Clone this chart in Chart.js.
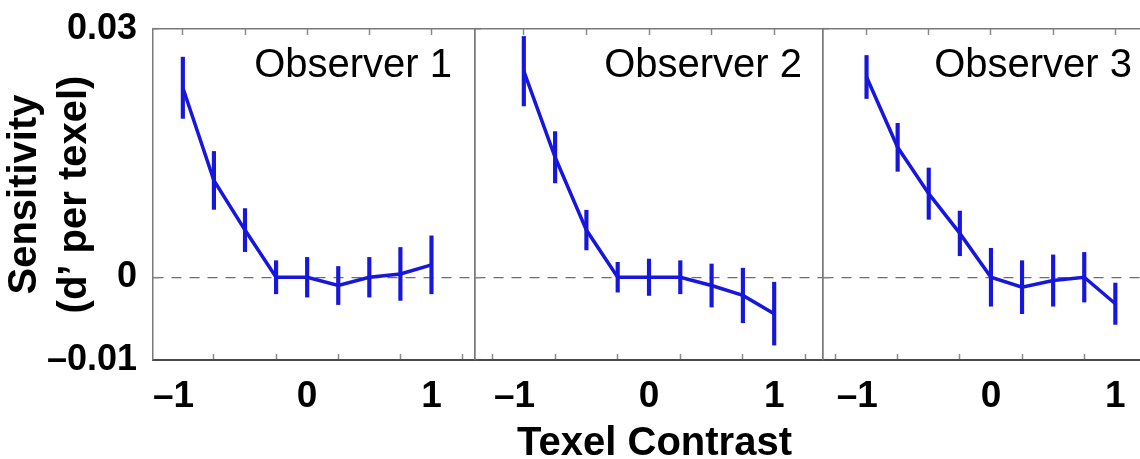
<!DOCTYPE html>
<html>
<head>
<meta charset="utf-8">
<script src="https://cdn.jsdelivr.net/npm/chart.js@4"></script>
<style>
  html, body { margin: 0; padding: 0; background: #fff; overflow: hidden; }
  #wrap { position: relative; width: 1140px; height: 459px; overflow: hidden; }
  .panel { position: absolute; top: 0; height: 459px; }
</style>
</head>
<body>
<div id="wrap">
  <div class="panel" style="left:0px;width:476px"><canvas id="p1"></canvas></div>
  <div class="panel" style="left:474px;width:350px"><canvas id="p2"></canvas></div>
  <div class="panel" style="left:822px;width:340px"><canvas id="p3"></canvas></div>
</div>
<script>
// texel contrast levels
var contrast = [-1, -0.75, -0.5, -0.25, 0, 0.25, 0.5, 0.75, 1];

// sensitivity (d' per texel) and error bar half-lengths
var obs1Mean = [0.0229, 0.0117, 0.0057, 0, 0, -0.001, 0, 0.0004, 0.0015];
var obs1Err = [0.0037, 0.0035, 0.0026, 0.002, 0.0024, 0.0023, 0.0024, 0.0032, 0.0035];
var obs2Mean = [0.0249, 0.0145, 0.0057, 0, 0, 0, -0.001, -0.0022, -0.0044];
var obs2Err = [0.0042, 0.0031, 0.0024, 0.0018, 0.0022, 0.002, 0.0026, 0.0033, 0.0038];
var obs3Mean = [0.0242, 0.0157, 0.0101, 0.0053, 0, -0.0012, -0.0004, 0, -0.0032];
var obs3Err = [0.0026, 0.0029, 0.0031, 0.0027, 0.0035, 0.0032, 0.0031, 0.003, 0.0025];

var panelNames = ['Observer 1', 'Observer 2', 'Observer 3'];

// ticks (the minus label is padded so the digit sits on the tick, as in the figure)
var xTickValues = [-1, -0.5, 0, 0.5, 1];
var xTickText = ['\u20131\u2002', '', '0', '', '1'];
var yTickValues = [-0.01, 0, 0.03];
var yTickText = ['\u20130.01', '0', '0.03'];

var FONT = '"Liberation Sans", Arial, Helvetica, sans-serif';
var BLUE = '#1616dd';

var panelLabel = {
  id: 'panelLabel',
  afterDatasetsDraw: function (chart, args, opts) {
    var ctx = chart.ctx;
    var area = chart.chartArea;
    ctx.save();
    ctx.font = '40px ' + FONT;
    ctx.fillStyle = '#000';
    ctx.textAlign = 'right';
    ctx.textBaseline = 'alphabetic';
    ctx.fillText(opts.text, area.right - opts.right, area.top + 48);
    ctx.restore();
  }
};

function setTicks(values) {
  return function (scale) {
    scale.ticks = values.map(function (v) { return { value: v }; });
  };
}

function fixSize(prop, size) {
  return function (s) {
    s[prop] = size;
    s.paddingTop = 0;
    s.paddingBottom = 0;
    s.paddingLeft = 0;
    s.paddingRight = 0;
  };
}

function makePanel(id, mean, err, name, cfg) {
  var linePts = contrast.map(function (c, i) { return { x: c, y: mean[i] }; });
  var barPts = contrast.map(function (c, i) { return { x: c, y: [mean[i] - err[i], mean[i] + err[i]] }; });

  return new Chart(id, {
    type: 'line',
    plugins: [panelLabel],
    data: {
      datasets: [
        {
          type: 'bar',
          data: barPts,
          backgroundColor: BLUE,
          borderWidth: 0,
          barThickness: 3.5,
          grouped: false
        },
        {
          type: 'line',
          data: linePts,
          borderColor: BLUE,
          borderWidth: 3.5,
          pointRadius: 0,
          tension: 0,
          fill: false
        }
      ]
    },
    options: {
      responsive: true,
      maintainAspectRatio: false,
      animation: false,
      events: [],
      layout: { padding: { top: 29, left: cfg.padLeft, right: cfg.padRight, bottom: 0 } },
      plugins: {
        legend: { display: false },
        tooltip: { enabled: false },
        panelLabel: { text: name, right: cfg.labelRight }
      },
      scales: {
        x: {
          type: 'linear',
          position: 'bottom',
          min: cfg.xMin,
          max: cfg.xMax,
          offset: false,
          afterBuildTicks: setTicks(xTickValues),
          afterFit: fixSize('height', 99),
          border: { color: '#4a4a4a', width: 2 },
          grid: { drawOnChartArea: false, drawTicks: true, tickLength: -6, tickColor: '#8a8a8a', tickWidth: 1.5 },
          ticks: {
            autoSkip: false,
            maxRotation: 0,
            padding: 21,
            color: '#000',
            font: { family: FONT, size: 37, weight: 'bold' },
            callback: function (v, i) { return xTickText[i]; }
          },
          title: {
            display: cfg.xTitle,
            text: ' Texel Contrast',
            color: '#000',
            font: { family: FONT, size: 40, weight: 'bold', lineHeight: 1 },
            padding: { top: 0, bottom: -5 }
          }
        },
        xTop: {
          type: 'linear',
          position: 'top',
          min: cfg.xMin,
          max: cfg.xMax,
          afterBuildTicks: setTicks(xTickValues),
          afterFit: fixSize('height', 0),
          border: { color: '#7a7a7a', width: 1.5 },
          grid: { drawOnChartArea: false, drawTicks: true, tickLength: -6, tickColor: '#8a8a8a', tickWidth: 1.5 },
          ticks: { display: false }
        },
        y: {
          type: 'linear',
          position: 'left',
          min: -0.01,
          max: 0.03,
          afterBuildTicks: setTicks(yTickValues),
          afterFit: fixSize('width', cfg.yWidth),
          border: { color: '#7a7a7a', width: 1.5, dash: [10, 8] },
          grid: {
            drawOnChartArea: true,
            drawTicks: true,
            tickLength: -6,
            tickColor: '#8a8a8a',
            tickWidth: 1.5,
            tickBorderDash: [],
            lineWidth: 1.3,
            color: function (ctx) { return ctx.tick && ctx.tick.value === 0 ? '#6e6e6e' : 'rgba(0,0,0,0)'; }
          },
          ticks: {
            display: cfg.yLabels,
            padding: 22,
            color: '#000',
            font: { family: FONT, size: 36, weight: 'bold' },
            callback: function (v, i) { return yTickText[i]; }
          },
          title: {
            display: cfg.yLabels,
            text: ['Sensitivity', '(d\u2019 per texel)'],
            color: '#000',
            font: { family: FONT, size: 40, weight: 'bold', lineHeight: 1.25 },
            padding: { top: 0, bottom: 0 }
          }
        },
        yRight: {
          type: 'linear',
          position: 'right',
          min: -0.01,
          max: 0.03,
          afterFit: fixSize('width', 0),
          border: { color: '#7a7a7a', width: 1.5 },
          grid: { drawOnChartArea: false, drawTicks: false },
          ticks: { display: false }
        }
      }
    }
  });
}

makePanel('p1', obs1Mean, obs1Err, panelNames[0],
  { xMin: -1.24, xMax: 1.35, padLeft: 0, padRight: 1, yWidth: 153, yLabels: true, xTitle: false, labelRight: 23 });
makePanel('p2', obs2Mean, obs2Err, panelNames[1],
  { xMin: -1.39, xMax: 1.39, padLeft: 1, padRight: 1, yWidth: 0, yLabels: false, xTitle: true, labelRight: 21 });
makePanel('p3', obs3Mean, obs3Err, panelNames[2],
  { xMin: -1.35, xMax: 1.375, padLeft: 1, padRight: 0, yWidth: 0, yLabels: false, xTitle: false, labelRight: 30 });
</script>
</body>
</html>
